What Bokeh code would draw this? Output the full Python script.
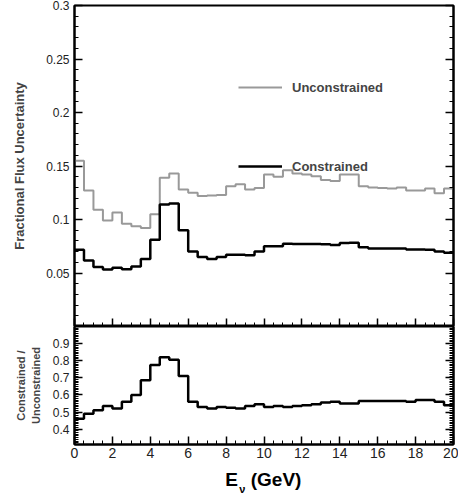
import numpy as np
from bokeh.plotting import figure
from bokeh.layouts import column
from bokeh.models import FixedTicker, LinearAxis, Legend, LegendItem, Range1d
from bokeh.core.properties import value
from bokeh.embed import file_html
from bokeh.resources import INLINE

edges = [i * 0.5 for i in range(41)]
unconstrained = [0.155, 0.127, 0.109, 0.099, 0.1066, 0.096, 0.0937, 0.092, 0.105, 0.139,
                 0.143, 0.128, 0.125, 0.122, 0.1225, 0.123, 0.131, 0.133, 0.128, 0.1295,
                 0.142, 0.140, 0.146, 0.143, 0.142, 0.1405, 0.137, 0.136, 0.142, 0.142,
                 0.131, 0.130, 0.1295, 0.129, 0.130, 0.127, 0.127, 0.129, 0.1245, 0.129]
constrained = [0.0717, 0.0616, 0.0557, 0.0532, 0.055, 0.0535, 0.056, 0.0632, 0.081, 0.114,
               0.115, 0.090, 0.070, 0.065, 0.063, 0.065, 0.067, 0.067, 0.0665, 0.070,
               0.0749, 0.075, 0.0774, 0.077, 0.0772, 0.077, 0.0768, 0.0762, 0.078, 0.0783,
               0.074, 0.073, 0.073, 0.073, 0.073, 0.072, 0.072, 0.0717, 0.070, 0.069]
ratio = [0.46, 0.49, 0.51, 0.535, 0.52, 0.56, 0.60, 0.685, 0.775, 0.82,
         0.805, 0.71, 0.56, 0.53, 0.52, 0.53, 0.525, 0.52, 0.535, 0.545,
         0.53, 0.535, 0.53, 0.535, 0.54, 0.545, 0.555, 0.56, 0.55, 0.55,
         0.565, 0.565, 0.565, 0.565, 0.565, 0.56, 0.57, 0.57, 0.56, 0.54]
x_ticks = list(range(0, 21, 2))
top_y_ticks = [0.05, 0.1, 0.15, 0.2, 0.25, 0.3]
ratio_y_ticks = [0.4, 0.5, 0.6, 0.7, 0.8, 0.9]

FONT = "Liberation Sans"
LEFT = 74

def step_xy(vals):
    xs, ys = [], []
    for i, v in enumerate(vals):
        xs += [edges[i], edges[i + 1]]
        ys += [v, v]
    return xs, ys

def style_axis(ax, ticks, labels=True):
    ax.major_tick_in = 8
    ax.major_tick_out = 0
    ax.minor_tick_in = 4
    ax.minor_tick_out = 0
    ax.axis_line_width = 2
    ax.major_tick_line_width = 1.5
    ax.major_label_text_font = FONT
    ax.major_label_text_font_size = "12px"
    ax.major_label_text_color = "#222222"
    if not labels:
        ax.major_label_overrides = {t: "" for t in ticks}
        ax.major_label_standoff = 0

xt = FixedTicker(ticks=x_ticks, minor_ticks=[i * 0.5 for i in range(41)])

p1 = figure(frame_width=379, frame_height=321, output_backend="svg", toolbar_location=None,
            x_range=Range1d(0, 20), y_range=Range1d(0, 0.3), min_border_left=LEFT,
            min_border_right=5, min_border_top=5, min_border_bottom=0)
p1.outline_line_color = "black"
p1.outline_line_width = 2
p1.grid.visible = False
p1.xaxis.ticker = xt
style_axis(p1.xaxis[0], x_ticks, labels=False)
p1.yaxis.ticker = FixedTicker(ticks=top_y_ticks, minor_ticks=[i * 0.01 for i in range(31)])
style_axis(p1.yaxis[0], top_y_ticks)
p1.yaxis.axis_label = "Fractional Flux Uncertainty"
p1.yaxis.axis_label_text_font = FONT
p1.yaxis.axis_label_text_font_style = "bold"
p1.yaxis.axis_label_text_font_size = "13px"
p1.yaxis.axis_label_standoff = 16
ra = LinearAxis(ticker=p1.yaxis.ticker)
style_axis(ra, top_y_ticks, labels=False)
p1.add_layout(ra, "right")

xu, yu = step_xy(unconstrained)
xc, yc = step_xy(constrained)
ru = p1.line(xu, yu, line_color="#999999", line_width=2)
rc = p1.line(xc, yc, line_color="black", line_width=2.5)
for r, lab, y in [(ru, "Unconstrained", 219), (rc, "Constrained", 140)]:
    leg = Legend(items=[LegendItem(label=lab, renderers=[r])],
                 location=(154, y), glyph_width=44, label_standoff=10,
                 label_text_font=FONT, label_text_font_style="bold", label_text_font_size="13px",
                 background_fill_alpha=0, border_line_alpha=0)
    p1.add_layout(leg, "center")

p2 = figure(frame_width=379, frame_height=118, output_backend="svg", toolbar_location=None,
            x_range=p1.x_range, y_range=Range1d(0.31, 1.0), min_border_left=LEFT,
            min_border_right=5, min_border_top=0, min_border_bottom=0)
p2.outline_line_color = "black"
p2.outline_line_width = 2
p2.grid.visible = False
p2.xaxis.ticker = xt
style_axis(p2.xaxis[0], x_ticks)
p2.xaxis.major_label_text_font_size = "14px"
p2.xaxis.major_label_standoff = 3
p2.yaxis.ticker = FixedTicker(ticks=ratio_y_ticks,
                              minor_ticks=[0.31 + i * 0.01 for i in range(70)])
style_axis(p2.yaxis[0], ratio_y_ticks)
p2.yaxis.axis_label = "Constrained /\nUnconstrained"
p2.yaxis.axis_label_text_font = FONT
p2.yaxis.axis_label_text_font_style = "bold"
p2.yaxis.axis_label_text_font_size = "11px"
p2.yaxis.axis_label_standoff = 8
ra2 = LinearAxis(ticker=p2.yaxis.ticker)
style_axis(ra2, ratio_y_ticks, labels=False)
p2.add_layout(ra2, "right")
xr, yr = step_xy(ratio)
p2.line(xr, yr, line_color="black", line_width=2.5)

p3 = figure(frame_width=379, frame_height=34, output_backend="svg", toolbar_location=None,
            x_range=p1.x_range, y_range=Range1d(0, 1), min_border_left=LEFT,
            min_border_right=5, min_border_top=0, min_border_bottom=0)
p3.axis.visible = False
p3.grid.visible = False
p3.outline_line_color = None
p3.text(x=[7.95], y=[0.12], text=["E"], text_font=value(FONT), text_font_style="bold",
        text_font_size="19px", text_baseline="bottom")
p3.text(x=[8.7], y=[0.0], text=["\u03bd"], text_font=value(FONT), text_font_style="bold",
        text_font_size="11px", text_baseline="bottom")
p3.text(x=[9.3], y=[0.12], text=["(GeV)"], text_font=value(FONT), text_font_style="bold",
        text_font_size="19px", text_baseline="bottom")

layout = column(p1, p2, p3, spacing=0)
open("out.html", "w").write(file_html(layout, INLINE))
